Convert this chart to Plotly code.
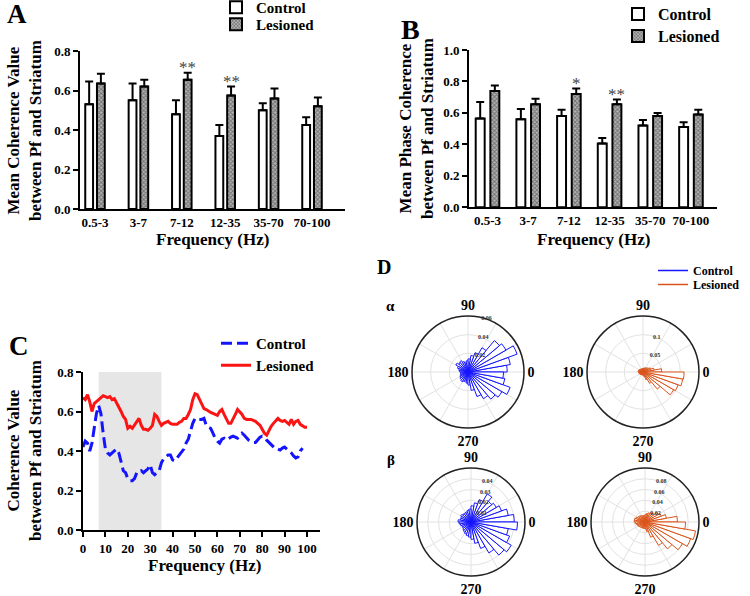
import plotly.graph_objects as go

# ---------------- data ----------------
bands = ["0.5-3", "3-7", "7-12", "12-35", "35-70", "70-100"]

a_ctrl = [0.53, 0.55, 0.48, 0.37, 0.50, 0.425]
a_ctrl_err = [0.115, 0.085, 0.07, 0.055, 0.035, 0.04]
a_les = [0.635, 0.62, 0.655, 0.575, 0.56, 0.52]
a_les_err = [0.05, 0.035, 0.035, 0.045, 0.05, 0.045]
a_sig = ["", "", "**", "**", "", ""]

b_ctrl = [0.565, 0.56, 0.58, 0.405, 0.52, 0.51]
b_ctrl_err = [0.105, 0.065, 0.04, 0.035, 0.035, 0.03]
b_les = [0.74, 0.655, 0.72, 0.655, 0.58, 0.59]
b_les_err = [0.035, 0.035, 0.035, 0.03, 0.02, 0.03]
b_sig = ["", "", "*", "**", "", ""]

c_freq_ctrl = list(range(0, 99))
c_ctrl = [0.42, 0.45, 0.44, 0.40, 0.44, 0.52, 0.59, 0.63, 0.59, 0.49,
          0.41, 0.39, 0.38, 0.39, 0.40, 0.41, 0.39, 0.34, 0.30, 0.29,
          0.26, 0.25, 0.25, 0.26, 0.29, 0.29, 0.30, 0.29, 0.30, 0.31,
          0.33, 0.29, 0.28, 0.29, 0.30, 0.34, 0.36, 0.37, 0.38, 0.38,
          0.355, 0.35, 0.365, 0.38, 0.40, 0.41, 0.44, 0.46, 0.50, 0.54,
          0.565, 0.56, 0.56, 0.56, 0.565, 0.53, 0.52, 0.515, 0.49, 0.465,
          0.45, 0.44, 0.46, 0.465, 0.455, 0.465, 0.47, 0.475, 0.47, 0.465,
          0.475, 0.49, 0.48, 0.465, 0.455, 0.45, 0.443, 0.443, 0.455, 0.47,
          0.475, 0.47, 0.455, 0.443, 0.43, 0.42, 0.41, 0.41, 0.405, 0.415,
          0.42, 0.41, 0.40, 0.39, 0.375, 0.365, 0.37, 0.40, 0.415]
c_freq_les = list(range(0, 101))
c_les = [0.67, 0.66, 0.685, 0.65, 0.60, 0.64, 0.65, 0.66, 0.67, 0.68,
         0.675, 0.67, 0.675, 0.66, 0.665, 0.645, 0.625, 0.60, 0.575, 0.56,
         0.515, 0.525, 0.515, 0.53, 0.55, 0.565, 0.53, 0.51, 0.51, 0.505,
         0.515, 0.53, 0.585, 0.575, 0.55, 0.53, 0.54, 0.545, 0.55, 0.54,
         0.535, 0.535, 0.535, 0.545, 0.55, 0.565, 0.565, 0.585, 0.61, 0.66,
         0.69, 0.685, 0.66, 0.635, 0.615, 0.61, 0.60, 0.595, 0.59, 0.585,
         0.58, 0.60, 0.61, 0.585, 0.56, 0.54, 0.54, 0.56, 0.585, 0.61,
         0.60, 0.585, 0.565, 0.56, 0.56, 0.56, 0.555, 0.55, 0.54, 0.53,
         0.51, 0.49, 0.48, 0.505, 0.525, 0.54, 0.55, 0.565, 0.555, 0.55,
         0.555, 0.545, 0.535, 0.56, 0.535, 0.55, 0.555, 0.535, 0.525, 0.52,
         0.52]
c_band = [7, 35]

rose_theta = list(range(5, 360, 10))
rose_ctrl_alpha = [0.042, 0.046, 0.056, 0.047, 0.044, 0.030, 0.022, 0.018, 0.014, 0.012,
                   0.010, 0.012, 0.014, 0.013, 0.015, 0.012, 0.010, 0.009, 0.008, 0.008,
                   0.009, 0.010, 0.011, 0.012, 0.011, 0.010, 0.012, 0.014, 0.020, 0.028,
                   0.033, 0.038, 0.042, 0.048, 0.040, 0.038]
rose_les_alpha = [0.05, 0.030, 0.022, 0.018, 0.015, 0.013, 0.012, 0.010, 0.010, 0.009,
                  0.009, 0.009, 0.010, 0.010, 0.011, 0.012, 0.013, 0.013, 0.012, 0.011,
                  0.010, 0.010, 0.009, 0.009, 0.008, 0.008, 0.008, 0.009, 0.012, 0.022,
                  0.035, 0.060, 0.095, 0.100, 0.108, 0.110]
rose_ctrl_beta = [0.040, 0.035, 0.030, 0.027, 0.025, 0.030, 0.022, 0.018, 0.015, 0.012,
                  0.011, 0.010, 0.010, 0.010, 0.011, 0.010, 0.010, 0.012, 0.011, 0.010,
                  0.009, 0.009, 0.010, 0.011, 0.012, 0.013, 0.014, 0.016, 0.020, 0.026,
                  0.033, 0.040, 0.043, 0.038, 0.035, 0.043]
rose_les_beta = [0.060, 0.040, 0.032, 0.028, 0.022, 0.020, 0.018, 0.016, 0.014, 0.012,
                 0.012, 0.013, 0.014, 0.015, 0.016, 0.018, 0.020, 0.020, 0.018, 0.016,
                 0.015, 0.014, 0.013, 0.012, 0.012, 0.012, 0.012, 0.013, 0.018, 0.030,
                 0.050, 0.065, 0.080, 0.090, 0.095, 0.075]

# ---------------- helpers ----------------
W, H = 750, 596
def PX(x): return x / W
def PY(y): return 1 - y / H

SERIF = "Liberation Serif"
BLUE = "rgb(20,20,255)"
RED = "rgb(250,20,20)"
ORANGE = "rgb(217,83,25)"
idx = list(range(len(bands)))
zeros = [0] * len(bands)

fig = go.Figure()

def add_bars(ctrl, ctrl_err, les, les_err, xa, ya, legc, legl, w, off_c, off_l):
    fig.add_trace(go.Bar(
        x=idx, y=ctrl, width=w, offset=off_c, name="Control",
        marker=dict(color="white", line=dict(color="black", width=2)),
        error_y=dict(type="data", array=ctrl_err, arrayminus=zeros, symmetric=False,
                     color="black", thickness=2, width=4),
        xaxis=xa, yaxis=ya, legend=legc))
    fig.add_trace(go.Bar(
        x=idx, y=les, width=w, offset=off_l, name="Lesioned",
        marker=dict(color="#a8a8a8", line=dict(color="black", width=2),
                    pattern=dict(shape="x", size=3, solidity=0.5,
                                 fgcolor="#2a2a2a", bgcolor="#b4b4b4")),
        error_y=dict(type="data", array=les_err, arrayminus=zeros, symmetric=False,
                     color="black", thickness=2, width=4),
        xaxis=xa, yaxis=ya, legend=legl))

add_bars(a_ctrl, a_ctrl_err, a_les, a_les_err, "x", "y", "legend", "legend2", 0.18, -0.225, 0.045)
add_bars(b_ctrl, b_ctrl_err, b_les, b_les_err, "x2", "y2", "legend3", "legend4", 0.22, -0.29, 0.07)

# significance stars
for i, s in enumerate(a_sig):
    if s:
        fig.add_annotation(x=i + 0.045 + 0.09, y=a_les[i] + a_les_err[i], xref="x", yref="y",
                           text=s, showarrow=False, xanchor="center", yanchor="bottom", yshift=-6,
                           font=dict(family=SERIF, size=17, color="#444"))
for i, s in enumerate(b_sig):
    if s:
        fig.add_annotation(x=i + 0.07 + 0.11, y=b_les[i] + b_les_err[i], xref="x2", yref="y2",
                           text=s, showarrow=False, xanchor="center", yanchor="bottom", yshift=-6,
                           font=dict(family=SERIF, size=17, color="#444"))

# panel C lines
fig.add_trace(go.Scatter(x=c_freq_ctrl, y=c_ctrl, mode="lines", name="Control",
                         line=dict(color=BLUE, width=3, dash="11px,5px"),
                         xaxis="x3", yaxis="y3", legend="legend5"))
fig.add_trace(go.Scatter(x=c_freq_les, y=c_les, mode="lines", name="Lesioned",
                         line=dict(color=RED, width=3),
                         xaxis="x3", yaxis="y3", legend="legend6"))
fig.add_shape(type="rect", xref="x3", yref="y3", x0=c_band[0], x1=c_band[1], y0=0, y1=0.8,
              fillcolor="#e6e6e6", line=dict(width=0), layer="below")

# panel D roses
roses = [(rose_ctrl_alpha, BLUE, "polar"), (rose_les_alpha, ORANGE, "polar2"),
         (rose_ctrl_beta, BLUE, "polar3"), (rose_les_beta, ORANGE, "polar4")]
for r, col, sp in roses:
    fig.add_trace(go.Barpolar(r=r, theta=rose_theta, width=10, subplot=sp, showlegend=False,
                              marker=dict(color="white", line=dict(color=col, width=1))))
fig.add_trace(go.Scatterpolar(r=[None], theta=[None], mode="lines", name="Control",
                              line=dict(color=BLUE, width=1.5), subplot="polar", legend="legend7"))
fig.add_trace(go.Scatterpolar(r=[None], theta=[None], mode="lines", name="Lesioned",
                              line=dict(color=ORANGE, width=1.5), subplot="polar", legend="legend8"))

# ---------------- layout ----------------
tickf = dict(family=SERIF, size=13, color="black", weight="bold")
def xbar(dom, rng):
    return dict(domain=dom, range=rng, tickvals=idx, ticktext=bands, showline=True,
                linewidth=2, linecolor="black", ticks="", showgrid=False, zeroline=False,
                tickfont=tickf, fixedrange=True)
def yax(dom, rng, dtick, anchor):
    return dict(domain=dom, range=rng, dtick=dtick, tickformat=".1f", showline=True,
                linewidth=2, linecolor="black", ticks="outside", ticklen=5, tickwidth=2,
                tickcolor="black", showgrid=False, zeroline=False, tickfont=tickf, anchor=anchor)

def polar(cx, cy, r, rmax, rticks):
    return dict(
        domain=dict(x=[PX(cx - r), PX(cx + r)], y=[PY(cy + r), PY(cy - r)]),
        bgcolor="white",
        angularaxis=dict(tickvals=list(range(0, 360, 30)),
                         ticktext=["0", "", "", "90", "", "", "180", "", "", "270", "", ""],
                         tickfont=dict(family=SERIF, size=14, color="black", weight="bold"),
                         linecolor="#222", linewidth=1.5, gridcolor="#e2e2e2", ticks=""),
        radialaxis=dict(range=[0, rmax], tickvals=rticks, showline=False, ticks="",
                        gridcolor="#e2e2e2", angle=80, tickangle=80,
                        tickfont=dict(family=SERIF, size=6, color="#333", weight="bold")))

def leg(x, ycenter, size, off=17):
    return dict(x=PX(x), y=PY(ycenter - off), xanchor="left", yanchor="top",
                font=dict(family=SERIF, color="black", weight="bold", size=size),
                bgcolor="rgba(0,0,0,0)", tracegroupgap=0)

fig.update_layout(
    width=W, height=H, margin=dict(l=0, r=0, t=0, b=0, autoexpand=False),
    paper_bgcolor="white", plot_bgcolor="white", barmode="overlay",
    xaxis=xbar([PX(80), PX(345)], [-0.346, 5.76]) | dict(anchor="y"),
    yaxis=yax([PY(209), PY(51)], [0, 0.8], 0.2, "x"),
    xaxis2=xbar([PX(469), PX(717)], [-0.455, 5.64]) | dict(anchor="y2"),
    yaxis2=yax([PY(207.3), PY(50)], [0, 1.0], 0.2, "x2"),
    xaxis3=dict(domain=[PX(83), PX(320)], range=[0, 105.8], dtick=10, showline=True,
                linewidth=2, linecolor="black", ticks="outside", ticklen=5, tickwidth=2,
                tickcolor="black", showgrid=False, zeroline=False, tickfont=tickf, anchor="y3"),
    yaxis3=yax([PY(530), PY(372)], [0, 0.8], 0.2, "x3"),
    polar=polar(468, 372, 56, 0.06, [0.02, 0.04, 0.06]),
    polar2=polar(643, 372, 56, 0.15, [0.05, 0.1]),
    polar3=polar(471, 522, 54, 0.05, [0.01, 0.02, 0.03, 0.04]),
    polar4=polar(645, 522, 54, 0.10, [0.02, 0.04, 0.06, 0.08]),
    legend=leg(216, 8, 15),
    legend2=leg(216, 25, 15),
    legend3=leg(618, 14, 16),
    legend4=leg(618, 36, 16),
    legend5=leg(216, 344, 15),
    legend6=leg(216, 366, 15),
    legend7=leg(653, 272, 12, 16),
    legend8=leg(653, 286, 12, 16),
)

def note(text, x, y, size, angle=0, color="black"):
    fig.add_annotation(text=text, x=PX(x), y=PY(y), xref="paper", yref="paper",
                       showarrow=False, textangle=angle, xanchor="center", yanchor="middle",
                       font=dict(family=SERIF, size=size, color=color, weight="bold"))

note("A", 17, 14, 27)
note("B", 410, 30, 28)
note("C", 19, 346, 27)
note("D", 384, 267, 20)
note("α", 390, 306, 15)
note("β", 391, 460, 15)
note("Mean Coherence Value<br>between Pf and Striatum", 24, 131, 17, -90)
note("Mean Phase Coherence<br>between Pf and Striatum", 417, 129, 17, -90)
note("Coherence Value<br>between Pf and Striatum", 24, 451, 17, -90)
note("Frequency (Hz)", 212, 240, 17)
note("Frequency (Hz)", 593, 239, 17)
note("Frequency (Hz)", 204, 565, 17)

fig.write_html("out.html", config={"displayModeBar": False},
               post_script="document.body.style.margin='0';")
